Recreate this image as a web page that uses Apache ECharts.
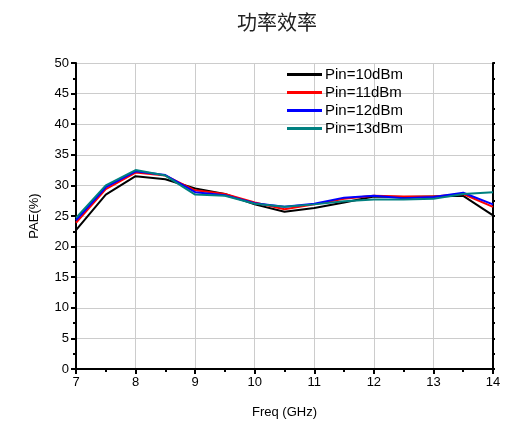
<!DOCTYPE html>
<html>
<head>
<meta charset="utf-8">
<script src="https://cdn.jsdelivr.net/npm/echarts@6/dist/echarts.min.js"></script>
<style>
  html, body { margin: 0; padding: 0; background: #fff; }
  #chart { width: 507px; height: 424px; }
</style>
</head>
<body>
<div id="chart"></div>
<script>
// Frequency points (GHz)
const freq = [7, 7.5, 8, 8.5, 9, 9.5, 10, 10.5, 11, 11.5, 12, 12.5, 13, 13.5, 14];

// PAE (%) per input power
const pae10 = [22.7, 28.5, 31.5, 31.0, 29.5, 28.6, 26.9, 25.7, 26.3, 27.2, 28.2, 28.1, 28.2, 28.3, 25.1];
const pae11 = [23.9, 29.4, 32.1, 31.6, 29.2, 28.6, 27.2, 26.1, 26.9, 27.8, 28.3, 28.2, 28.2, 28.6, 26.5];
const pae12 = [24.3, 29.7, 32.3, 31.7, 28.9, 28.4, 27.1, 26.5, 27.0, 28.0, 28.3, 27.9, 28.1, 28.8, 26.9];
const pae13 = [24.7, 30.0, 32.5, 31.6, 28.5, 28.3, 27.0, 26.5, 26.9, 27.4, 27.7, 27.7, 27.8, 28.6, 28.9];

const seriesNames = ['Pin=10dBm', 'Pin=11dBm', 'Pin=12dBm', 'Pin=13dBm'];
const seriesColors = ['#000000', '#ff0000', '#0000ff', '#008080'];
const seriesData = [pae10, pae11, pae12, pae13];

const font = 'Liberation Sans, Arial, sans-serif';

const chart = echarts.init(document.getElementById('chart'));

const axisLine = { show: true, lineStyle: { color: '#000', width: 2 } };

chart.setOption({
  animation: false,
  backgroundColor: '#fff',
  title: {
    text: '功率效率',
    left: 272,
    textAlign: 'center',
    top: 7,
    textStyle: { fontFamily: 'Noto Sans CJK SC', fontWeight: 'normal', fontSize: 20, color: '#222' }
  },
  legend: {
    orient: 'vertical',
    left: 282,
    top: 62,
    itemWidth: 35,
    itemHeight: 3,
    itemGap: 3,
    icon: 'rect',
    data: seriesNames,
    textStyle: { fontFamily: font, fontSize: 15, color: '#000', padding: [0, 0, 0, -2] }
  },
  grid: { left: 76, right: 14, top: 63, bottom: 55 },
  xAxis: [{
    type: 'value',
    min: 7, max: 14, interval: 1,
    name: 'Freq (GHz)',
    nameLocation: 'middle',
    nameGap: 37,
    nameTextStyle: { fontFamily: font, fontSize: 13, color: '#000' },
    axisLine: axisLine,
    axisTick: { show: true, length: 5, lineStyle: { color: '#000', width: 2 } },
    minorTick: { show: true, splitNumber: 2, length: 3, lineStyle: { color: '#000', width: 2 } },
    axisLabel: { fontFamily: font, fontSize: 13, color: '#000', margin: 7 },
    splitLine: { show: true, lineStyle: { color: '#cccccc', width: 1 } }
  }, {
    type: 'value',
    position: 'top',
    min: 7, max: 14, interval: 1,
    axisLine: axisLine,
    axisTick: { show: false },
    axisLabel: { show: false },
    splitLine: { show: false }
  }],
  yAxis: [{
    type: 'value',
    min: 0, max: 50, interval: 5,
    name: 'PAE(%)',
    nameLocation: 'middle',
    nameGap: 35,
    nameTextStyle: { fontFamily: font, fontSize: 13, color: '#000' },
    axisLine: axisLine,
    axisTick: { show: true, length: 5, lineStyle: { color: '#000', width: 2 } },
    minorTick: { show: true, splitNumber: 2, length: 3, lineStyle: { color: '#000', width: 2 } },
    axisLabel: { fontFamily: font, fontSize: 13, color: '#000', margin: 7 },
    splitLine: { show: true, lineStyle: { color: '#cccccc', width: 1 } }
  }, {
    type: 'value',
    position: 'right',
    min: 0, max: 50, interval: 5,
    axisLine: axisLine,
    axisTick: { show: true, length: 2, lineStyle: { color: '#000', width: 2 } },
    minorTick: { show: true, splitNumber: 2, length: 2, lineStyle: { color: '#000', width: 2 } },
    axisLabel: { show: false },
    splitLine: { show: false }
  }],
  series: seriesNames.map((name, i) => ({
    name: name,
    type: 'line',
    data: freq.map((f, j) => [f, seriesData[i][j]]),
    showSymbol: false,
    symbol: 'none',
    color: seriesColors[i],
    lineStyle: { color: seriesColors[i], width: 2 }
  }))
});
</script>
</body>
</html>
